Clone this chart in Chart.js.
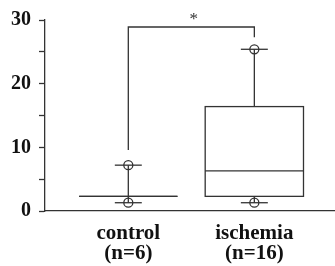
<!DOCTYPE html>
<html><head><meta charset="utf-8">
<script src="https://cdn.jsdelivr.net/npm/chart.js@4.4.0/dist/chart.umd.min.js"></script>
<style>html,body{margin:0;padding:0;background:#fff}</style>
</head><body>
<canvas id="c" width="335" height="266"></canvas>
<script>
// ---- data ----
const categories = ['control', 'ischemia'];
const groupSizes = ['(n=6)', '(n=16)'];
const positions = [1, 2];
const minValues = [1.3, 1.3];
const q1Values = [2.3, 2.3];
const medianValues = [2.3, 6.3];
const q3Values = [2.3, 16.4];
const maxValues = [7.2, 25.4];
const yTickValues = [0, 5, 10, 15, 20, 25, 30];
const yTickLabels = ['0', '', '10', '', '20', '', '30'];
const sigBracket = [9.6, 28.9, 27.3]; // left end, top, right end
const sigLabel = '*';

// ---- styles ----
const INK = '#333';
const LW = 1.3;
const BOX_HALF = 0.39;
const CAP_HALF = 0.107;
const SERIF = "'Liberation Serif','Times New Roman',serif";

const boxPlugin = {
  id: 'boxplot',
  beforeDatasetsDraw(chart) {
    const { ctx, scales: { x, y } } = chart;
    ctx.save();
    ctx.strokeStyle = INK;
    ctx.lineWidth = LW;
    const line = (x1, y1, x2, y2) => { ctx.beginPath(); ctx.moveTo(x1, y1); ctx.lineTo(x2, y2); ctx.stroke(); };
    positions.forEach((p, i) => {
      const cx = x.getPixelForValue(p);
      const l = x.getPixelForValue(p - BOX_HALF), r = x.getPixelForValue(p + BOX_HALF);
      const cl = x.getPixelForValue(p - CAP_HALF), cr = x.getPixelForValue(p + CAP_HALF);
      const yq1 = y.getPixelForValue(q1Values[i]);
      const yq3 = y.getPixelForValue(q3Values[i]);
      const ymed = y.getPixelForValue(medianValues[i]);
      const ymin = y.getPixelForValue(minValues[i]);
      const ymax = y.getPixelForValue(maxValues[i]);
      if (Math.abs(yq1 - yq3) > 0.5) ctx.strokeRect(l, yq3, r - l, yq1 - yq3);
      else line(l, yq1, r, yq1);
      line(l, ymed, r, ymed);
      line(cx, ymin, cx, yq1);
      line(cx, yq3, cx, ymax);
      line(cl, ymin, cr, ymin);
      line(cl, ymax, cr, ymax);
    });
    // significance bracket
    const bx1 = x.getPixelForValue(positions[0]);
    const bx2 = x.getPixelForValue(positions[1]);
    const yl = y.getPixelForValue(sigBracket[0]);
    const yt = y.getPixelForValue(sigBracket[1]);
    const yr = y.getPixelForValue(sigBracket[2]);
    ctx.beginPath();
    ctx.moveTo(bx1, yl); ctx.lineTo(bx1, yt); ctx.lineTo(bx2, yt); ctx.lineTo(bx2, yr);
    ctx.stroke();
    ctx.fillStyle = INK;
    ctx.font = "17px " + SERIF;
    ctx.textAlign = 'center';
    ctx.textBaseline = 'middle';
    ctx.fillText(sigLabel, x.getPixelForValue((positions[0] + positions[1]) / 2 + 0.02), yt - 7);
    ctx.restore();
  }
};

const circleData = [];
positions.forEach((p, i) => {
  circleData.push({ x: p, y: minValues[i] });
  circleData.push({ x: p, y: maxValues[i] });
});

new Chart(document.getElementById('c'), {
  type: 'scatter',
  data: {
    datasets: [{
      data: circleData,
      pointStyle: 'circle',
      pointRadius: 4.5,
      pointBorderWidth: LW,
      borderColor: INK,
      backgroundColor: 'rgba(0,0,0,0)',
      pointHoverRadius: 4.5
    }]
  },
  options: {
    responsive: false,
    animation: false,
    events: [],
    layout: { autoPadding: false, padding: { top: 18, right: 0, bottom: 0, left: 0 } },
    plugins: { legend: { display: false }, tooltip: { enabled: false } },
    scales: {
      x: {
        type: 'linear',
        min: 0.339,
        max: 2.64,
        afterBuildTicks: s => { s.ticks = positions.map(v => ({ value: v })); },
        afterFit: s => { s.height = 55; s.paddingLeft = 0; s.paddingRight = 0; },
        grid: { display: false },
        border: { display: true, color: INK, width: LW },
        ticks: {
          padding: 4,
          color: '#111',
          maxRotation: 0,
          autoSkip: false,
          font: { family: SERIF, size: 21, weight: 'bold', lineHeight: 0.96 },
          callback: (v) => { const i = positions.indexOf(v); return i >= 0 ? [categories[i], groupSizes[i]] : ''; }
        }
      },
      y: {
        min: 0,
        max: 30,
        afterBuildTicks: s => { s.ticks = yTickValues.map(v => ({ value: v })); },
        afterFit: s => { s.width = 45; },
        grid: { drawOnChartArea: false, drawTicks: true, tickLength: 6, color: INK, tickWidth: LW },
        border: { display: true, color: INK, width: LW },
        ticks: {
          padding: 8,
          color: '#111',
          font: { family: SERIF, size: 20, weight: 'bold' },
          callback: (v) => { const i = yTickValues.indexOf(v); return i >= 0 ? yTickLabels[i] : ''; }
        }
      }
    }
  },
  plugins: [boxPlugin]
});
</script>
</body></html>
